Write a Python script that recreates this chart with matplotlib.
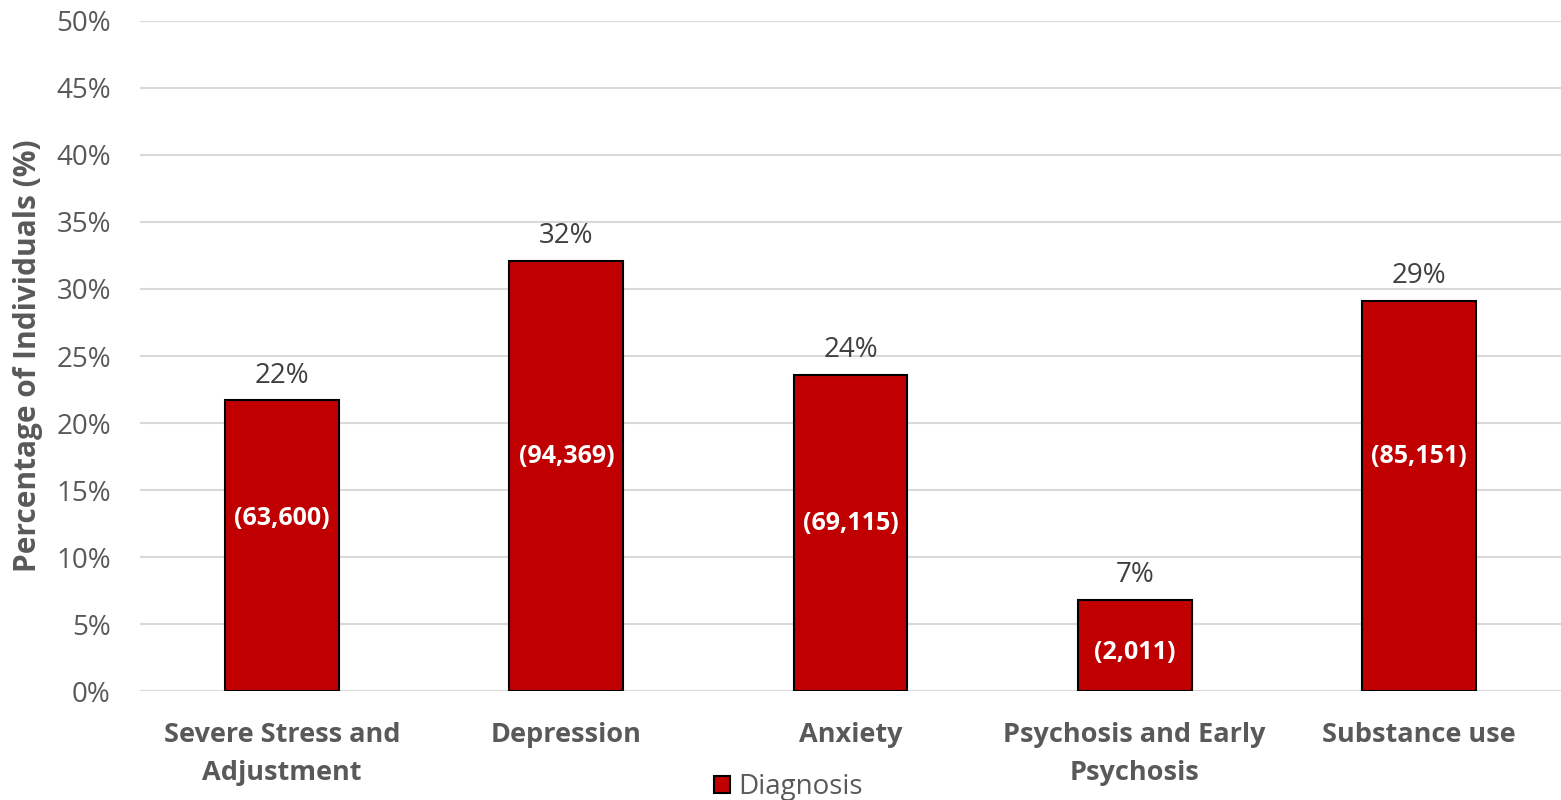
import matplotlib
matplotlib.use('Agg')
import matplotlib.pyplot as plt
import numpy as np

plt.rcParams['font.family'] = ['Open Sans', 'DejaVu Sans']

categories = ['Severe Stress and\nAdjustment', 'Depression', 'Anxiety',
              'Psychosis and Early\nPsychosis', 'Substance use']
percentages = [21.7, 32.1, 23.6, 6.8, 29.1]
top_labels = ['22%', '32%', '24%', '7%', '29%']
counts = ['(63,600)', '(94,369)', '(69,115)', '(2,011)', '(85,151)']
count_label_y = [12.9, 17.5, 12.5, 2.9, 17.5]

grey = '#595959'
bar_color = '#C00000'

fig = plt.figure(figsize=(15.61, 8), dpi=100)
ax = fig.add_axes([0.0897, 0.136, 0.9103, 0.838])

x = np.arange(len(categories))
bars = ax.bar(x, percentages, 0.4, color=bar_color, edgecolor='black',
              linewidth=1.5, label='Diagnosis', zorder=3)

for i, b in enumerate(bars):
    ax.text(b.get_x() + b.get_width() / 2, percentages[i] + 0.8, top_labels[i],
            ha='center', va='bottom', fontsize=20, color='#404040')
    ax.text(b.get_x() + b.get_width() / 2, count_label_y[i], counts[i],
            ha='center', va='center', fontsize=18, color='white', fontweight='bold')

ax.set_xlim(-0.5, len(categories) - 0.5)
ax.set_ylim(0, 50)
ax.set_yticks(np.arange(0, 51, 5))
ax.set_yticklabels([f'{v}%' for v in range(0, 51, 5)])
ax.set_xticks(x)
ax.set_xticklabels(categories, fontweight='bold', linespacing=1.6)
ax.tick_params(axis='y', labelsize=20, labelcolor=grey, length=0, pad=21)
ax.tick_params(axis='x', labelsize=19.5, labelcolor=grey, length=0, pad=22)

ax.grid(axis='y', color='#D9D9D9', linewidth=1.5, zorder=0)
for s in ax.spines.values():
    s.set_visible(False)

ax.set_ylabel('Percentage of Individuals (%)', fontsize=21.5, fontweight='bold',
              color=grey)
ax.yaxis.set_label_coords(-0.068, 0.5)

leg = fig.legend(loc='lower center', bbox_to_anchor=(0.505, -0.033), frameon=False,
                 fontsize=20, handlelength=0.6, handleheight=0.6, handletextpad=0.3)
for t in leg.get_texts():
    t.set_color(grey)

plt.savefig('out.png', dpi=100)
